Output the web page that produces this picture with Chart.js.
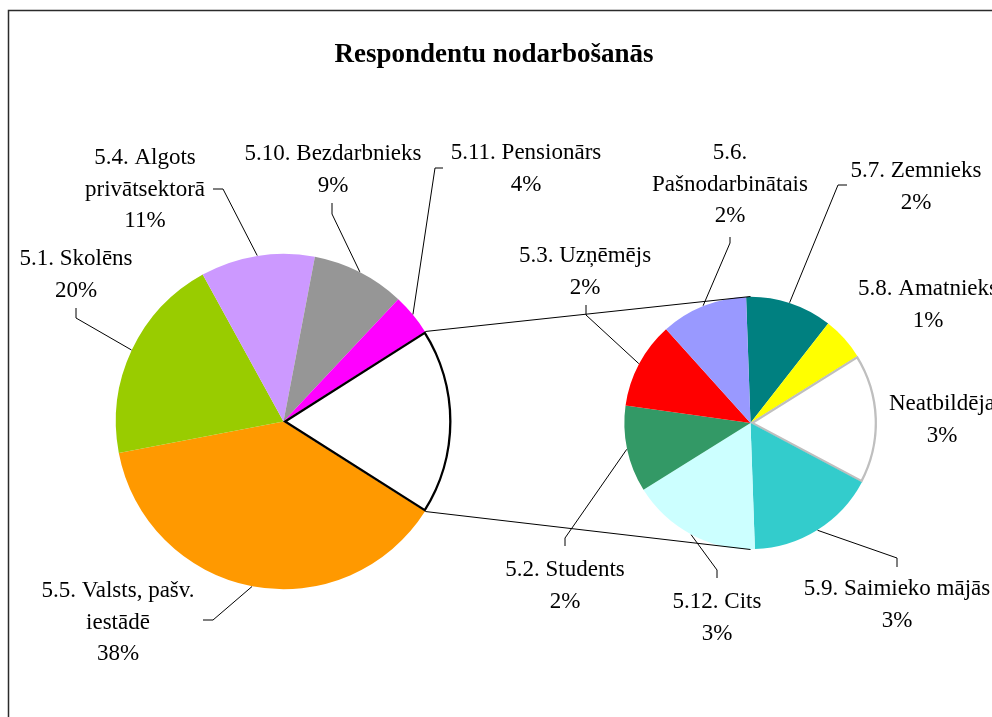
<!DOCTYPE html>
<html>
<head>
<meta charset="utf-8">
<script src="https://cdn.jsdelivr.net/npm/chart.js@4/dist/chart.umd.min.js"></script>
<style>
  html, body { margin: 0; padding: 0; background: #fff; overflow: hidden; }
  #wrap { position: relative; width: 992px; height: 717px; }
  #wrap canvas { position: absolute; left: 0; top: 0; }
</style>
</head>
<body>
<div id="wrap">
  <canvas id="mainPie" width="992" height="717"></canvas>
  <canvas id="detailPie" width="992" height="717"></canvas>
</div>
<script>
// ---- data ----
const TITLE = 'Respondentu nodarbošanās';

// main pie (clockwise, starting just below the "other" wedge)
const mainCategories = ['5.5. Valsts, pašv.\niestādē', '5.1. Skolēns', '5.4. Algots\nprivātsektorā', '5.10. Bezdarbnieks', '5.11. Pensionārs'];
const mainValues = [38, 20, 11, 9, 4];
const mainColors = ['#FF9900', '#99CC00', '#CC99FF', '#969696', '#FF00FF'];

// secondary pie, breaking out the small groups (clockwise from the top)
const detailCategories = ['5.7. Zemnieks', '5.8. Amatnieks', 'Neatbildēja', '5.9. Saimieko mājās', '5.12. Cits', '5.2. Students', '5.3. Uzņēmējs', '5.6.\nPašnodarbinātais'];
const detailValues = [2, 1, 3, 3, 3, 2, 2, 2];
const detailColors = ['#008080', '#FFFF00', '#FFFFFF', '#33CCCC', '#CCFFFF', '#339966', '#FF0000', '#9999FF'];

// the combined wedge in the main pie is the total of the secondary pie
const otherValue = detailValues.reduce((a, b) => a + b, 0);

// ---- label layout: [centre x, first baseline, leader start, leader elbow] ----
const mainLabelLayout = [
  [118, 597, [203, 620], [213, 620]],
  [76, 265, [76, 308], [76, 318]],
  [145, 164, [213, 189], [223, 189]],
  [333, 160, [332, 203], [332, 214]],
  [526, 159, [443, 168], [435, 168]]
];
const detailLabelLayout = [
  [916, 177, [847, 185], [838, 185]],
  [928, 295, null, null],
  [942, 410, null, null],
  [897, 595, [897, 567], [897, 558]],
  [717, 608, [717, 578], [717, 570]],
  [565, 576, [565, 546], [565, 538]],
  [585, 262, [586, 305], [586, 315]],
  [730, 159, [730, 237], [730, 243]]
];

const LABEL_FONT = '23px "Liberation Serif", "Times New Roman", serif';
const TITLE_FONT = 'bold 27px "Liberation Serif", "Times New Roman", serif';
const LINE_H = 31.5;

function pieOptions(padding, rotation) {
  return {
    responsive: false,
    animation: false,
    events: [],
    rotation: rotation,
    layout: { padding: padding },
    plugins: { legend: { display: false }, tooltip: { enabled: false }, title: { display: false } }
  };
}

const mainChart = new Chart(document.getElementById('mainPie'), {
  type: 'pie',
  data: {
    labels: mainCategories.concat(['other']),
    datasets: [{
      data: mainValues.concat([otherValue]),
      backgroundColor: mainColors.concat(['#FFFFFF']),
      borderColor: mainColors.map(() => 'rgba(0,0,0,0)').concat(['#000000']),
      borderWidth: mainValues.map(() => 0).concat([2]),
      borderAlign: 'inner',
      radius: 168
    }]
  },
  // the combined wedge is centred on the horizontal axis, pointing right
  options: pieOptions({ left: 115.5, top: 253.5, right: 540.5, bottom: 127.5 }, 90 + otherValue / 100 * 180)
});

function arcGeom(el) {
  return el.getProps(['x', 'y', 'startAngle', 'endAngle', 'outerRadius'], true);
}

function drawLabels(ctx, meta, categories, values, layout) {
  meta.data.forEach((el, i) => {
    if (i >= categories.length) return;
    const L = layout[i];
    const g = arcGeom(el);
    const mid = (g.startAngle + g.endAngle) / 2;
    const px = g.x + Math.cos(mid) * g.outerRadius;
    const py = g.y + Math.sin(mid) * g.outerRadius;
    if (L[2]) {
      ctx.beginPath();
      ctx.moveTo(L[2][0], L[2][1]);
      ctx.lineTo(L[3][0], L[3][1]);
      ctx.lineTo(px, py);
      ctx.strokeStyle = '#000';
      ctx.lineWidth = 1;
      ctx.stroke();
    }
    const lines = categories[i].split('\n').concat([values[i] + '%']);
    ctx.fillStyle = '#000';
    ctx.font = LABEL_FONT;
    ctx.textAlign = 'center';
    ctx.textBaseline = 'alphabetic';
    lines.forEach((t, k) => ctx.fillText(t, L[0], L[1] + k * LINE_H));
  });
}

const decorations = {
  id: 'decorations',
  afterDraw(chart) {
    const ctx = chart.ctx;
    ctx.save();
    // chart frame
    ctx.strokeStyle = '#2b2b2b';
    ctx.lineWidth = 1.5;
    ctx.strokeRect(8.5, 10.5, 1200, 1000);

    // title
    ctx.fillStyle = '#000';
    ctx.font = TITLE_FONT;
    ctx.textAlign = 'center';
    ctx.textBaseline = 'alphabetic';
    ctx.fillText(TITLE, 494, 62);

    // connector lines from the combined wedge to the secondary pie
    const mainMeta = mainChart.getDatasetMeta(0);
    const otherArc = arcGeom(mainMeta.data[mainMeta.data.length - 1]);
    const d = arcGeom(chart.getDatasetMeta(0).data[0]);
    ctx.beginPath();
    ctx.moveTo(otherArc.x + Math.cos(otherArc.startAngle) * otherArc.outerRadius,
               otherArc.y + Math.sin(otherArc.startAngle) * otherArc.outerRadius);
    ctx.lineTo(d.x, d.y - d.outerRadius);
    ctx.moveTo(otherArc.x + Math.cos(otherArc.endAngle) * otherArc.outerRadius,
               otherArc.y + Math.sin(otherArc.endAngle) * otherArc.outerRadius);
    ctx.lineTo(d.x, d.y + d.outerRadius);
    ctx.strokeStyle = '#000';
    ctx.lineWidth = 1;
    ctx.stroke();

    drawLabels(ctx, mainMeta, mainCategories, mainValues, mainLabelLayout);
    drawLabels(ctx, chart.getDatasetMeta(0), detailCategories, detailValues, detailLabelLayout);
    ctx.restore();
  }
};

const detailChart = new Chart(document.getElementById('detailPie'), {
  type: 'pie',
  data: {
    labels: detailCategories,
    datasets: [{
      data: detailValues,
      backgroundColor: detailColors,
      borderColor: detailColors.map(c => c === '#FFFFFF' ? '#BFBFBF' : 'rgba(0,0,0,0)'),
      borderWidth: detailColors.map(c => c === '#FFFFFF' ? 2 : 0),
      borderAlign: 'inner',
      radius: 126.5
    }]
  },
  options: pieOptions({ left: 620.5, top: 293, right: 111.5, bottom: 164 }, -2),
  plugins: [decorations]
});
</script>
</body>
</html>
